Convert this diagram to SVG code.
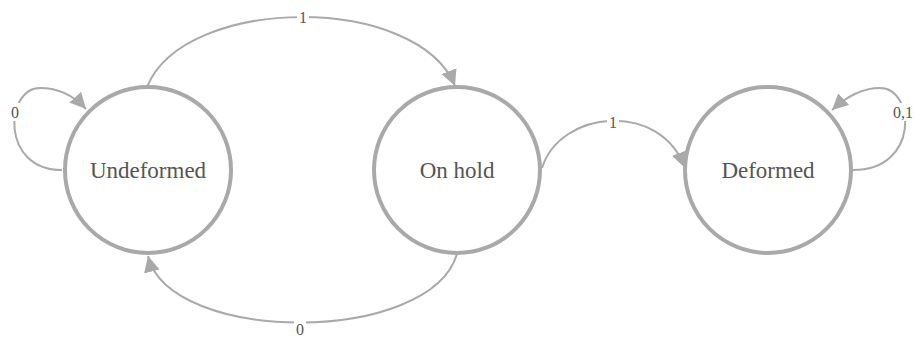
<svg xmlns="http://www.w3.org/2000/svg" width="914" height="338" viewBox="0 0 914 338">
<style>
.node{fill:#fff;stroke:#a9a9a9;stroke-width:4}
.ntxt{font-family:"Liberation Serif","DejaVu Serif",serif;font-size:23px;fill:#555;text-anchor:middle}
.edge{fill:none;stroke:#a9a9a9;stroke-width:2}
.lbl{font-family:"Liberation Serif","DejaVu Serif",serif;font-size:16px;fill:#555;text-anchor:middle}
.lbg{fill:#fff}
</style>
<defs>
<marker id="arr" viewBox="0 0 10 10" refX="10" refY="5" markerWidth="8" markerHeight="8" orient="auto" markerUnits="strokeWidth">
<path d="M0,0 L10,5 L0,10 z" fill="#a9a9a9"/>
</marker>
</defs>
<rect width="914" height="338" fill="#fff"/>
<g id="connectors">
<path class="edge" d="M147,87 C185,-6 418,-6 455,86" marker-end="url(#arr)"/>
<path class="edge" d="M542,168 C560,110 660,100 685,168" marker-end="url(#arr)"/>
<path class="edge" d="M457,254 C430,345 170,345 148,256" marker-end="url(#arr)"/>
<path class="edge" d="M62,170 C0,170 5,88 40,88 C60,88 75,97 86,109" marker-end="url(#arr)"/>
<path class="edge" d="M853,170 C920,170 915,88 880,88 C862,88 846,97 832,110" marker-end="url(#arr)"/>
<rect class="lbg" x="297" y="8" width="12" height="18"/>
<text class="lbl" x="303" y="23">1</text>
<rect class="lbg" x="607" y="113" width="12" height="18"/>
<text class="lbl" x="613" y="128">1</text>
<rect class="lbg" x="294" y="320" width="12" height="18"/>
<text class="lbl" x="300" y="335">0</text>
<rect class="lbg" x="9" y="103" width="12" height="18"/>
<text class="lbl" x="15" y="118">0</text>
<rect class="lbg" x="892" y="103" width="22" height="18"/>
<text class="lbl" x="893" y="118" style="text-anchor:start">0,1</text>
</g>
<g id="undeformed">
<circle class="node" cx="148" cy="170" r="83"/>
<text class="ntxt" x="148" y="178">Undeformed</text>
</g>
<g id="onhold">
<circle class="node" cx="457" cy="170" r="83"/>
<text class="ntxt" x="457" y="178">On hold</text>
</g>
<g id="deformed">
<circle class="node" cx="768" cy="170" r="83"/>
<text class="ntxt" x="768" y="178">Deformed</text>
</g>
</svg>
